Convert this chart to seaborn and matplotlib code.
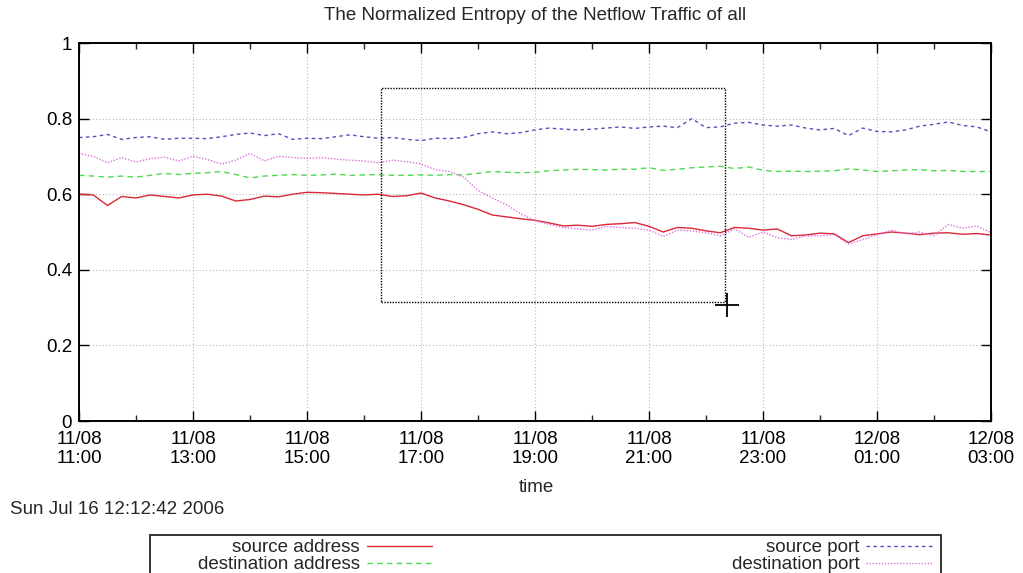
import numpy as np
import pandas as pd
import matplotlib
matplotlib.use("Agg")
import matplotlib.pyplot as plt
from matplotlib.ticker import MultipleLocator
from matplotlib.patches import Rectangle
import seaborn as sns

# ---- data (hours since 11/08 11:00, 15-minute steps) ----
hours = [i * 0.25 for i in range(65)]

source_address = [
    0.600, 0.598, 0.570, 0.594, 0.590, 0.598, 0.594, 0.590, 0.598, 0.600,
    0.595, 0.582, 0.586, 0.595, 0.593, 0.600, 0.605, 0.604, 0.602, 0.600,
    0.598, 0.600, 0.594, 0.596, 0.603, 0.590, 0.582, 0.572, 0.560, 0.545,
    0.540, 0.535, 0.531, 0.524, 0.516, 0.518, 0.515, 0.520, 0.522, 0.525,
    0.515, 0.500, 0.512, 0.510, 0.503, 0.498, 0.512, 0.510, 0.505, 0.508,
    0.490, 0.492, 0.497, 0.495, 0.472, 0.490, 0.495, 0.500, 0.497, 0.493,
    0.497, 0.498, 0.494, 0.496, 0.492]

destination_address = [
    0.650, 0.648, 0.645, 0.648, 0.645, 0.650, 0.655, 0.652, 0.655, 0.657,
    0.660, 0.652, 0.643, 0.648, 0.650, 0.652, 0.650, 0.651, 0.653, 0.650,
    0.651, 0.652, 0.650, 0.650, 0.651, 0.650, 0.652, 0.651, 0.655, 0.660,
    0.658, 0.657, 0.658, 0.662, 0.664, 0.666, 0.665, 0.664, 0.666, 0.666,
    0.670, 0.663, 0.666, 0.670, 0.672, 0.674, 0.668, 0.672, 0.663, 0.660,
    0.661, 0.660, 0.661, 0.662, 0.667, 0.664, 0.660, 0.662, 0.664, 0.665,
    0.662, 0.663, 0.660, 0.660, 0.660]

source_port = [
    0.750, 0.752, 0.758, 0.745, 0.750, 0.752, 0.745, 0.748, 0.748, 0.747,
    0.752, 0.758, 0.762, 0.755, 0.760, 0.745, 0.748, 0.747, 0.752, 0.757,
    0.752, 0.748, 0.750, 0.745, 0.742, 0.748, 0.747, 0.750, 0.760, 0.765,
    0.760, 0.763, 0.770, 0.775, 0.772, 0.770, 0.772, 0.775, 0.778, 0.774,
    0.778, 0.780, 0.776, 0.800, 0.776, 0.778, 0.788, 0.790, 0.783, 0.780,
    0.783, 0.775, 0.770, 0.774, 0.755, 0.775, 0.766, 0.765, 0.770, 0.780,
    0.785, 0.791, 0.782, 0.778, 0.765]

destination_port = [
    0.708, 0.700, 0.683, 0.697, 0.685, 0.694, 0.698, 0.688, 0.700, 0.692,
    0.680, 0.690, 0.708, 0.688, 0.700, 0.697, 0.695, 0.697, 0.693, 0.690,
    0.688, 0.683, 0.690, 0.686, 0.680, 0.665, 0.660, 0.645, 0.610, 0.590,
    0.572, 0.548, 0.530, 0.520, 0.512, 0.508, 0.505, 0.515, 0.512, 0.510,
    0.505, 0.488, 0.505, 0.503, 0.498, 0.490, 0.508, 0.486, 0.500, 0.485,
    0.480, 0.490, 0.490, 0.493, 0.468, 0.480, 0.492, 0.505, 0.495, 0.500,
    0.490, 0.520, 0.510, 0.516, 0.498]

tick_hours = [0, 2, 4, 6, 8, 10, 12, 14, 16]
tick_labels = ["11/08\n11:00", "11/08\n13:00", "11/08\n15:00", "11/08\n17:00",
               "11/08\n19:00", "11/08\n21:00", "11/08\n23:00", "12/08\n01:00",
               "12/08\n03:00"]
y_ticks = [0, 0.2, 0.4, 0.6, 0.8, 1.0]
y_tick_labels = ["0", "0.2", "0.4", "0.6", "0.8", "1"]

# zoom rectangle & cursor (data coords)
zoom_x = [5.30, 11.33]
zoom_y = [0.315, 0.881]
cursor_x = [11.37]
cursor_y = [0.307]

FS = 13.5

# ---- plotting ----
sns.set_style("white")
plt.rcParams["font.family"] = ["Liberation Sans", "DejaVu Sans"]

fig = plt.figure(figsize=(10.23, 5.73), dpi=100)
ax = fig.add_axes([79 / 1023, 1 - 421 / 573, 912 / 1023, 378 / 573])

series = [
    ("source address", source_address, "#d8283a", None),
    ("destination address", destination_address, "#50d850", (4, 3)),
    ("source port", source_port, "#5050c0", (2.5, 2.5)),
    ("destination port", destination_port, "#e070e0", (1, 1.2)),
]
for name, vals, col, dash in series:
    df = pd.DataFrame({"time": hours, "value": vals})
    sns.lineplot(data=df, x="time", y="value", ax=ax, color=col,
                 linewidth=1.0, label=name)
    l = ax.get_lines()[-1]
    if dash is not None:
        l.set_dashes(dash)

# zoom rectangle
rx = [zoom_x[0], zoom_x[1], zoom_x[1], zoom_x[0], zoom_x[0]]
ry = [zoom_y[0], zoom_y[0], zoom_y[1], zoom_y[1], zoom_y[0]]
ax.plot(rx, ry, color="black", linewidth=1.0, linestyle=(0, (1, 1)))
ax.plot(cursor_x, cursor_y, marker="+", markersize=17, mew=1.3, color="black",
        linestyle="none")

ax.set_xlim(0, 16)
ax.set_ylim(0, 1)
ax.set_xticks(tick_hours)
ax.set_xticklabels(tick_labels, fontsize=FS, linespacing=1.15)
ax.set_yticks(y_ticks)
ax.set_yticklabels(y_tick_labels, fontsize=FS)
ax.xaxis.set_minor_locator(MultipleLocator(1))
ax.tick_params(axis="both", which="major", direction="in", length=7, width=1,
               top=True, right=True, bottom=True, left=True, pad=5, colors="black")
ax.tick_params(axis="x", which="major", pad=7)
ax.tick_params(axis="x", which="minor", direction="in", length=4, width=1,
               top=True, bottom=True)
ax.grid(True, which="major", color="#b8b8b8", linestyle=(0, (1, 2)), linewidth=0.8)
for s in ax.spines.values():
    s.set_visible(True)
    s.set_color("black")
    s.set_linewidth(1.4)
ax.set_xlabel("")
ax.set_ylabel("")

fig.text(535 / 1023, 1 - 15 / 573, "The Normalized Entropy of the Netflow Traffic of all",
         ha="center", va="center", fontsize=FS)
fig.text(536 / 1023, 1 - 487 / 573, "time", ha="center", va="center", fontsize=FS)
fig.text(10 / 1023, 1 - 509 / 573, "Sun Jul 16 12:12:42 2006", ha="left", va="center",
         fontsize=FS)

ax.get_legend().remove()
handles, labels = ax.get_legend_handles_labels()
leg = fig.legend(handles[:4], labels[:4], ncol=2, mode="expand", markerfirst=False,
                 bbox_to_anchor=(198 / 1023, 0.0, 734 / 1023, 1 - 539 / 573),
                 bbox_transform=fig.transFigure, loc="upper left",
                 fontsize=FS, frameon=False, borderpad=0.0,
                 labelspacing=0.0, handlelength=3.5, handletextpad=0.35,
                 borderaxespad=0)
for t in leg.get_texts():
    t.set_ha("right")

# legend frame (gnuplot-style box, cut at the bottom of the picture)
fig.patches.append(Rectangle((150 / 1023, -0.02), 791 / 1023, 0.02 + 1 - 535 / 573,
                             transform=fig.transFigure, fill=False,
                             edgecolor="#333333", linewidth=1.4))

fig.savefig("out.png", dpi=100, facecolor="white")
